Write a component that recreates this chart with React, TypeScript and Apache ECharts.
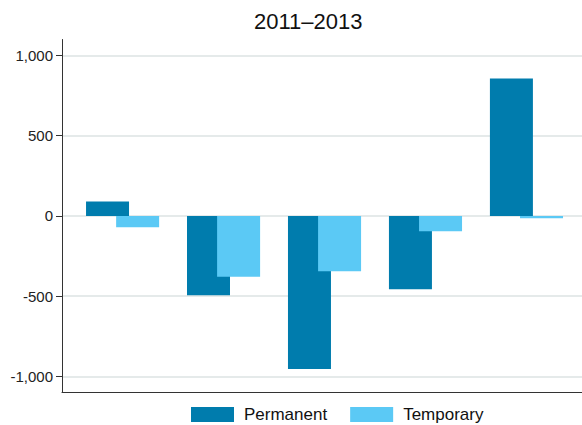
import React, { useEffect, useRef } from "react";
import * as echarts from "echarts";

const categories = [1, 2, 3, 4, 5];
const permanent = [90, -495, -955, -458, 857];
const temporary = [-70, -380, -345, -95, -14];
const yTicks = [-1000, -500, 0, 500, 1000];
const title = "2011–2013";
const seriesNames = ["Permanent", "Temporary"];

const FONT = "'Liberation Sans', Arial, sans-serif";

export default function App() {
  const ref = useRef<HTMLDivElement>(null);
  useEffect(() => {
    if (!ref.current) return;
    const chart = echarts.init(ref.current, null, { renderer: "svg" });
    chart.setOption({
      animation: false,
      backgroundColor: "#ffffff",
      title: {
        text: title,
        left: 254,
        top: 10,
        padding: 0,
        textStyle: { fontFamily: FONT, fontSize: 22, fontWeight: "normal", color: "#111" },
      },
      legend: {
        left: 191,
        top: 406,
        padding: 0,
        itemWidth: 43,
        itemHeight: 15,
        itemGap: 23,
        icon: "rect",
        data: seriesNames,
        textStyle: { fontFamily: FONT, fontSize: 17, color: "#111", padding: [0, 0, 0, 5] },
      },
      grid: { left: 62, right: 0, top: 39.5, bottom: 32.7 },
      xAxis: {
        type: "value",
        min: 0.4,
        max: 5.55,
        axisLine: { show: true, onZero: false, lineStyle: { color: "#333", width: 1 } },
        axisTick: { show: false },
        axisLabel: { show: false },
        splitLine: { show: false },
      },
      yAxis: {
        type: "value",
        min: -1100,
        max: 1100,
        interval: 100,
        axisLine: { show: true, lineStyle: { color: "#333", width: 1 } },
        axisTick: { show: true, customValues: yTicks, length: 6, lineStyle: { color: "#333" } },
        axisLabel: {
          customValues: yTicks,
          margin: 9,
          fontFamily: FONT,
          fontSize: 15,
          color: "#222",
          formatter: (v: number) => v.toLocaleString("en-US"),
        },
        splitLine: {
          show: true,
          showMinLine: true,
          showMaxLine: true,
          lineStyle: { color: "#dde3e3", width: 1.5 },
        },
      },
      series: [
        {
          name: seriesNames[0],
          type: "bar",
          barWidth: 43,
          barGap: "-30%",
          itemStyle: { color: "#007cad" },
          data: categories.map((c, i) => [c, permanent[i]]),
        },
        {
          name: seriesNames[1],
          type: "bar",
          barWidth: 43,
          barGap: "-30%",
          itemStyle: { color: "#5bc9f5" },
          data: categories.map((c, i) => [c, temporary[i]]),
        },
      ],
    });
    return () => chart.dispose();
  }, []);
  return (
    <div
      ref={ref}
      style={{ position: "fixed", left: 0, top: 0, width: 582, height: 425, background: "#fff" }}
    />
  );
}
